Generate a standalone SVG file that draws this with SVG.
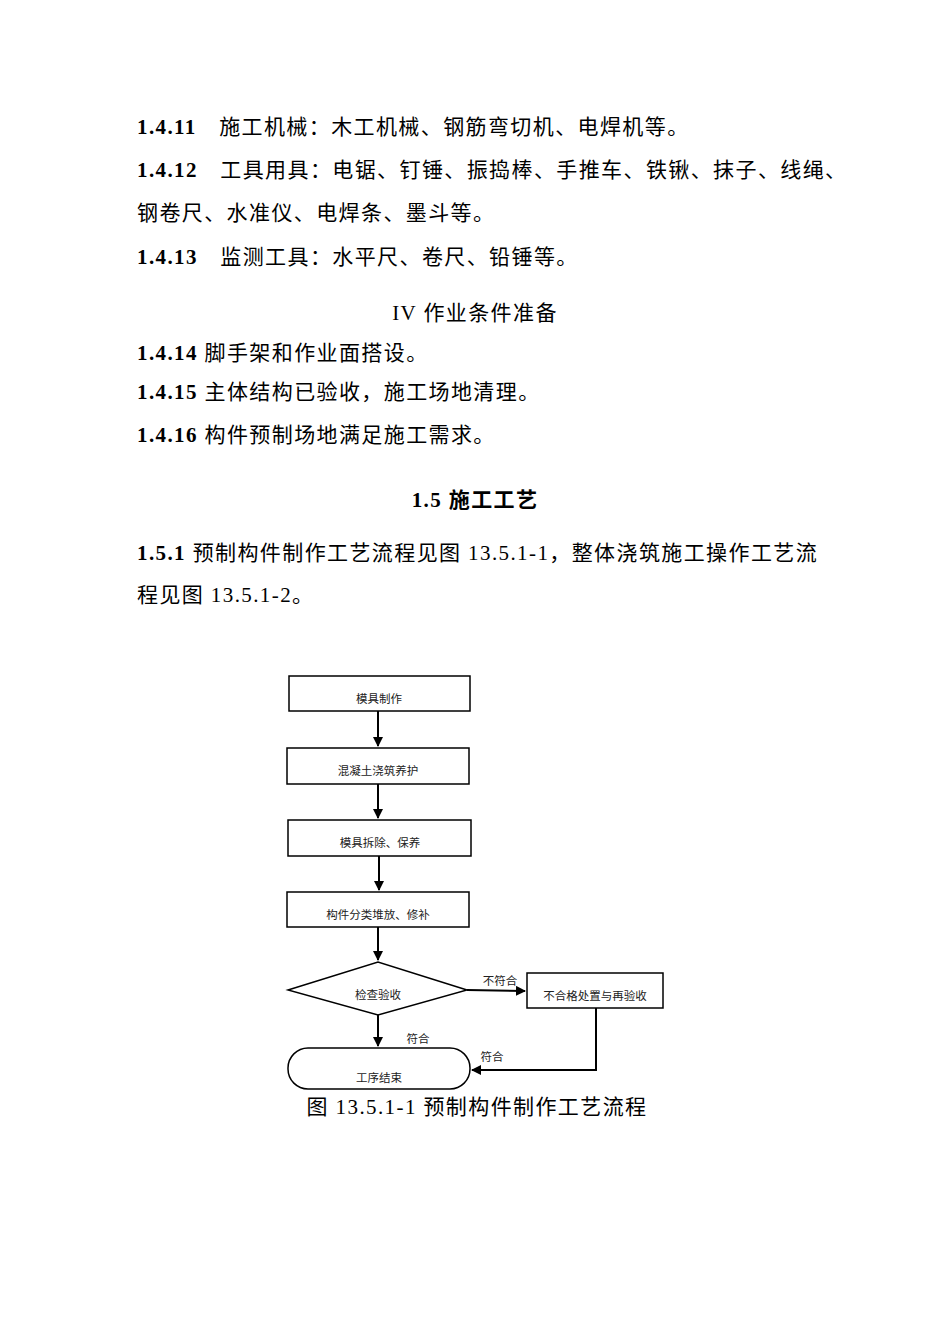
<svg xmlns="http://www.w3.org/2000/svg" width="950" height="1344" viewBox="0 0 950 1344">
<style>
.t{font-family:"Liberation Serif","Noto Sans CJK SC",serif;font-size:21px;letter-spacing:1.4px;fill:#000}
.b{font-weight:bold}
.n{fill:#fff;stroke:#000;stroke-width:1.5}
.s{font-family:"Liberation Serif","Noto Sans CJK SC",serif;font-size:11.5px;fill:#222;text-anchor:middle}
.c{fill:none;stroke:#000;stroke-width:2}
</style>
<defs><marker id="a" markerWidth="10" markerHeight="10" refX="9" refY="5" orient="auto" markerUnits="userSpaceOnUse"><path d="M0,0L10,5L0,10z" fill="#000"/></marker></defs>
<rect width="950" height="1344" fill="#fff"/>
<text class="t" x="137" y="134"><tspan class="b">1.4.11</tspan>　施工机械：木工机械、钢筋弯切机、电焊机等。</text>
<text class="t" x="137" y="177"><tspan class="b">1.4.12</tspan>　工具用具：电锯、钉锤、振捣棒、手推车、铁锹、抹子、线绳、</text>
<text class="t" x="137" y="220">钢卷尺、水准仪、电焊条、墨斗等。</text>
<text class="t" x="137" y="264"><tspan class="b">1.4.13</tspan>　监测工具：水平尺、卷尺、铅锤等。</text>
<text class="t" x="475" y="320" text-anchor="middle">IV 作业条件准备</text>
<text class="t" x="137" y="360"><tspan class="b">1.4.14</tspan> 脚手架和作业面搭设。</text>
<text class="t" x="137" y="399"><tspan class="b">1.4.15</tspan> 主体结构已验收，施工场地清理。</text>
<text class="t" x="137" y="442"><tspan class="b">1.4.16</tspan> 构件预制场地满足施工需求。</text>
<text class="t b" x="475" y="507" text-anchor="middle">1.5 施工工艺</text>
<text class="t" x="137" y="560"><tspan class="b">1.5.1</tspan> 预制构件制作工艺流程见图 13.5.1-1，整体浇筑施工操作工艺流</text>
<text class="t" x="137" y="602">程见图 13.5.1-2。</text>
<g id="connectors">
<path class="c" d="M378,711V746" marker-end="url(#a)"/>
<path class="c" d="M378,784V818" marker-end="url(#a)"/>
<path class="c" d="M379,856V890" marker-end="url(#a)"/>
<path class="c" d="M378,927V960" marker-end="url(#a)"/>
<path class="c" d="M467,990L525,991" marker-end="url(#a)"/>
<path class="c" d="M378,1015V1046" marker-end="url(#a)"/>
<path class="c" d="M596,1008V1070H472" marker-end="url(#a)"/>
<text class="s" x="500" y="985">不符合</text>
<text class="s" x="418" y="1043">符合</text>
<text class="s" x="492" y="1061">符合</text>
</g>
<g id="n1"><rect class="n" x="289" y="676" width="181" height="35"/><text class="s" x="379" y="703">模具制作</text></g>
<g id="n2"><rect class="n" x="287" y="748" width="182" height="36"/><text class="s" x="378" y="775">混凝土浇筑养护</text></g>
<g id="n3"><rect class="n" x="288" y="820" width="183" height="36"/><text class="s" x="380" y="847">模具拆除、保养</text></g>
<g id="n4"><rect class="n" x="287" y="892" width="182" height="35"/><text class="s" x="378" y="919">构件分类堆放、修补</text></g>
<g id="n5"><polygon class="n" points="288,990 378,962 467,990 378,1015"/><text class="s" x="378" y="999">检查验收</text></g>
<g id="n6"><rect class="n" x="527" y="973" width="136" height="35"/><text class="s" x="595" y="1000">不合格处置与再验收</text></g>
<g id="n7"><rect class="n" x="288" y="1048" width="182" height="41" rx="20"/><text class="s" x="379" y="1082">工序结束</text></g>
<text class="t" x="477" y="1114" text-anchor="middle">图 13.5.1-1 预制构件制作工艺流程</text>
</svg>
